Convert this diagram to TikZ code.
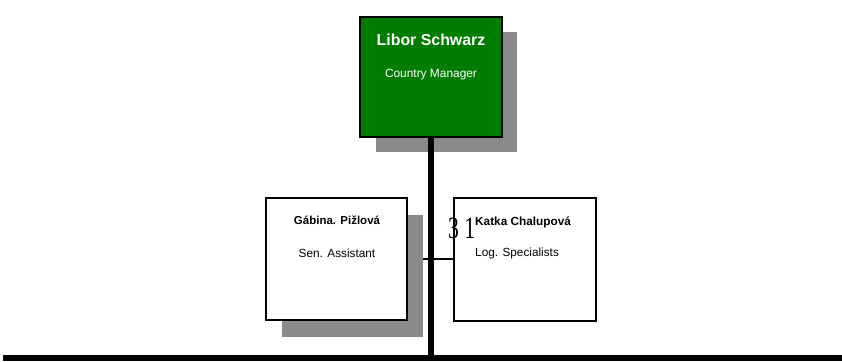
\documentclass[tikz,border=0pt]{standalone}
\usepackage{fontspec}
\setmainfont{Liberation Sans}
\newfontfamily\serifnum{Liberation Serif}
\definecolor{boxgreen}{HTML}{007C00}
\definecolor{shadowgray}{HTML}{8A8A8A}
\begin{document}
\begin{tikzpicture}[x=1pt,y=-1pt,
  orgbox/.style={draw=black,line width=1.5pt,inner sep=0pt,minimum width=141pt,minimum height=122pt},
  shadowbox/.style={fill=shadowgray,inner sep=0pt,minimum width=141pt,minimum height=122pt},
  namefont/.style={font=\fontsize{11.8}{14}\selectfont\bfseries},
  rolefont/.style={font=\fontsize{11.8}{14}\selectfont},
  conn/.style={line width=2pt},
  trunk/.style={line width=6pt}]
\useasboundingbox (0,0) rectangle (842,361);
% connectors under shadows
\coordinate (lc) at (336.5,259);
\coordinate (rc) at (525,259);
\draw[conn] (lc) -- (rc);
% shadows
\node[shadowbox,minimum width=141pt,minimum height=120pt] (gs) at (446.5,92) {};
\node[shadowbox] (ls) at (352.5,275.5) {};
% boxes
\node[orgbox,fill=boxgreen,minimum width=142pt,minimum height=120pt] (top) at (431,77) {};
\node[orgbox,fill=white] (left) at (336.5,259) {};
\node[orgbox,fill=white,minimum width=142pt,minimum height=123pt] (right) at (525,259.5) {};
% trunk
\coordinate (bl) at (3,358);
\coordinate (br) at (842,358);
\coordinate (tb) at (431,358);
\draw[trunk] (top.south) -- (tb);
\draw[trunk] (bl) -- (br);
% texts
\node[font=\fontsize{15.9}{19}\selectfont\bfseries,text=white] (tname) at (431,40) {Libor Schwarz};
\node[font=\fontsize{11.9}{14}\selectfont,text=white] (trole) at (431,75) {Country Manager};
\node[namefont,font=\fontsize{11.5}{14}\selectfont\bfseries] (lname) at (337,220) {Gábina. Pižlová};
\node[rolefont] (lrole) at (337,253) {Sen. Assistant};
\node[namefont,anchor=west,inner sep=0pt] (rname) at (475,222) {Katka Chalupová};
\node[rolefont,anchor=west,inner sep=0pt] (rrole) at (475,253) {Log. Specialists};
\node[font=\serifnum\fontsize{31}{31}\selectfont,xscale=0.7,anchor=base west,inner sep=0pt] (num) at (448,238) {3 1};
\end{tikzpicture}
\end{document}
